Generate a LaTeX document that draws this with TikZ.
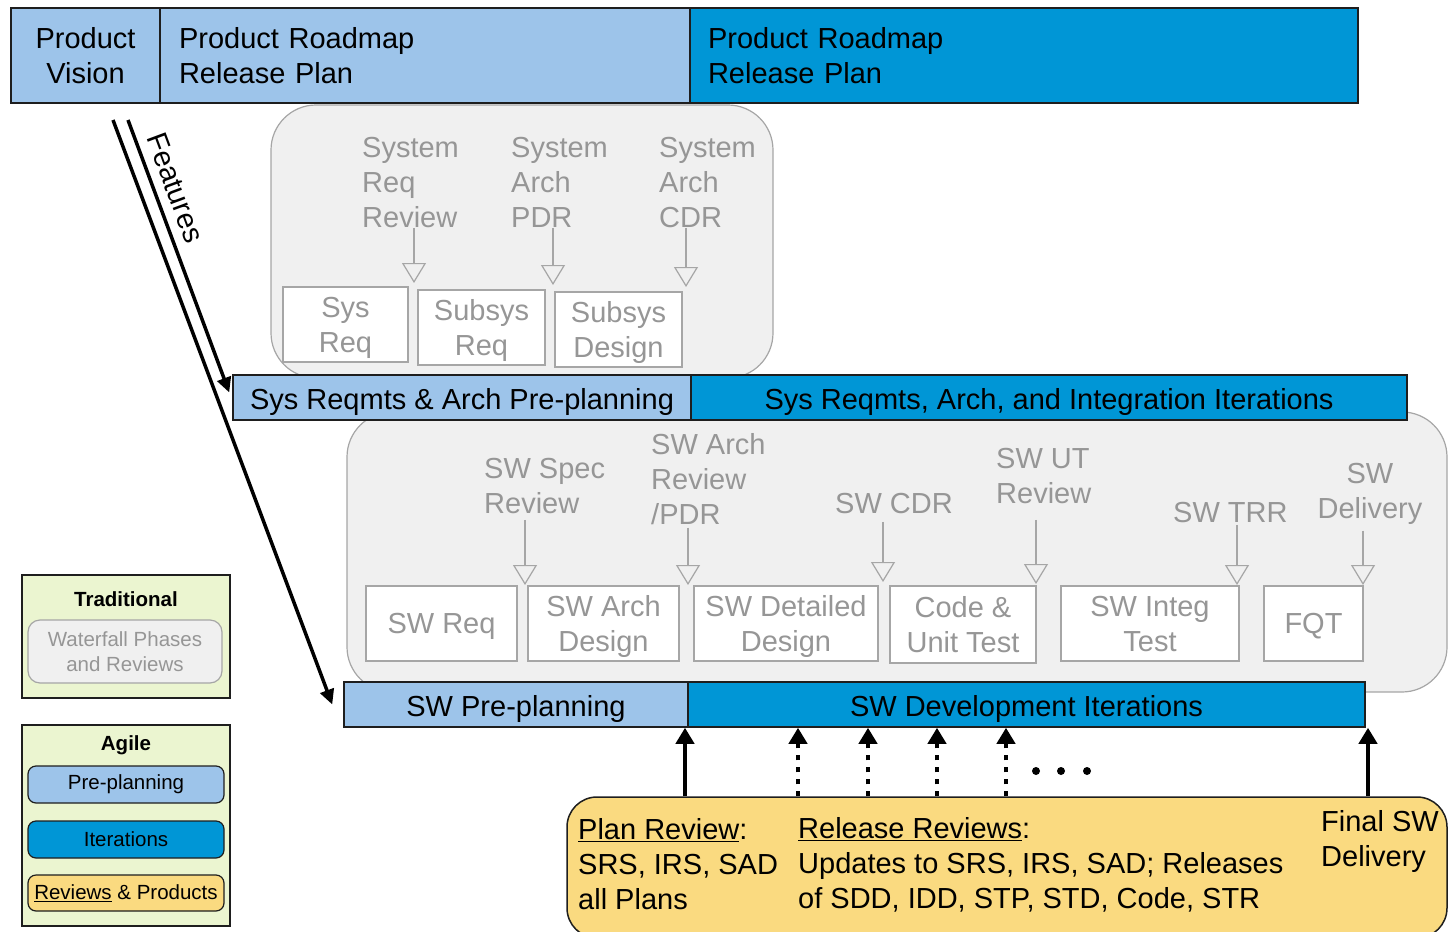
\documentclass[tikz,border=0pt]{standalone}
\usepackage{fontspec}
\setmainfont{Liberation Sans}
\usetikzlibrary{arrows.meta,calc}
\definecolor{lblue}{RGB}{157,196,234}
\definecolor{dblue}{RGB}{0,150,214}
\definecolor{gfill}{RGB}{240,240,240}
\definecolor{gline}{RGB}{166,166,166}
\definecolor{gtext}{RGB}{150,150,150}
\definecolor{lgreen}{RGB}{235,245,208}
\definecolor{ylw}{RGB}{250,218,128}
\definecolor{dk}{RGB}{30,30,30}
\begin{document}
\begin{tikzpicture}[x=1pt,y=-1pt,
  big/.style={font=\fontsize{29}{35}\selectfont},
  small/.style={font=\fontsize{20.5}{25}\selectfont},
  topbar/.style={draw=dk, line width=1.5pt, big, inner sep=0pt, minimum height=95pt},
  barbox/.style={draw=dk, line width=1.5pt, big, inner sep=0pt, minimum height=45pt, text height=29pt, text depth=6pt},
  graybg/.style={draw=gline, fill=gfill, line width=1.2pt, rounded corners=45pt, inner sep=0pt},
  phase/.style={draw=gline, fill=white, line width=1.2pt, text=gtext, big, align=center, inner sep=0pt, minimum height=75pt, text depth=-2pt},
  revlabel/.style={text=gtext, big, align=left, anchor=north west, inner sep=0pt},
  revarr/.style={draw=gline, line width=1.2pt, -{Triangle[open, width=24pt, length=20pt]}},
  feat/.style={draw=black, line width=3.5pt, -{Triangle[width=14pt, length=15pt]}},
  upsolid/.style={draw=black, line width=4pt, -{Triangle[width=18pt, length=16pt]}},
  updot/.style={upsolid, dash pattern=on 5pt off 7pt},
  btxt/.style={big, align=left, anchor=north west, inner sep=0pt},
  legbox/.style={draw=dk, fill=lgreen, line width=1.5pt, inner sep=0pt},
  legitem/.style={draw=dk, line width=1.2pt, rounded corners=8pt, small, inner sep=0pt, minimum width=196pt}
]
\useasboundingbox (0,0) rectangle (1449,932);

% gray waterfall backgrounds
\node[graybg, minimum width=502pt, minimum height=273pt] (sysbg) at (522,241.5) {};
\node[graybg, minimum width=1100pt, minimum height=280pt] (swbg) at (897,552) {};

% top bar
\node[topbar, fill=lblue, minimum width=149pt, align=center] (pv) at (85.5,55.5) {Product\\Vision};
\node[topbar, fill=lblue, minimum width=530pt, text width=492pt, inner xsep=19pt, align=left] (rm1) at (425,55.5) {Product Roadmap\\Release Plan};
\node[topbar, fill=dblue, minimum width=668pt, text width=632pt, inner xsep=18pt, align=left] (rm2) at (1024,55.5) {Product Roadmap\\Release Plan};

% system level reviews and phases
\node[revlabel] (r1) at (362,137) {System\\Req\\Review};
\node[revlabel] (r2) at (511,137) {System\\Arch\\PDR};
\node[revlabel] (r3) at (659,137) {System\\Arch\\CDR};
\node[phase, minimum width=125pt] (sysreq) at (345.5,324.5) {Sys\\Req};
\node[phase, minimum width=127pt] (subreq) at (481.5,327.5) {Subsys\\Req};
\node[phase, minimum width=127pt] (subdes) at (618.5,329.5) {Subsys\\Design};
\coordinate (tp1) at (414,283);
\coordinate (tp2) at (553,285);
\coordinate (tp3) at (686,287);
\draw[revarr] (r1.south -| tp1) -- (tp1);
\draw[revarr] (r2.south -| tp2) -- (tp2);
\draw[revarr] (r3.south -| tp3) -- (tp3);

% system bar
\node[barbox, fill=lblue, minimum width=458pt] (sb1) at (462,397.5) {Sys Reqmts \& Arch Pre-planning};
\node[barbox, fill=dblue, minimum width=716pt] (sb2) at (1049,397.5) {Sys Reqmts, Arch, and Integration Iterations};

% software level reviews and phases
\node[revlabel] (s1) at (484,458) {SW Spec\\Review};
\node[revlabel] (s2) at (651,433) {SW Arch\\Review\\/PDR};
\node[revlabel] (s3) at (835,493) {SW CDR};
\node[revlabel] (s4) at (996,448) {SW UT\\Review};
\node[revlabel] (s5) at (1173,502) {SW TRR};
\node[revlabel, align=center, anchor=north] (s6) at (1370,463) {SW\\Delivery};
\node[phase, minimum width=151pt] (swreq) at (441.5,623.5) {SW Req};
\node[phase, minimum width=151pt] (swarch) at (603.5,623.5) {SW Arch\\Design};
\node[phase, minimum width=184pt] (swdet) at (786,623.5) {SW Detailed\\Design};
\node[phase, minimum width=146pt, minimum height=77pt] (code) at (963,624.5) {Code \&\\Unit Test};
\node[phase, minimum width=178pt] (integ) at (1150,623.5) {SW Integ\\Test};
\node[phase, minimum width=99pt] (fqt) at (1313.5,623.5) {FQT};
\coordinate (st1) at (525,585);
\coordinate (st2) at (688,585);
\coordinate (st3) at (883,582);
\coordinate (st4) at (1036,584);
\coordinate (st5) at (1237,585);
\coordinate (st6) at (1363,585);
\draw[revarr, shorten <=6pt] (s1.south -| st1) -- (st1);
\draw[revarr, shorten <=3pt] (s2.south -| st2) -- (st2);
\draw[revarr, shorten <=8pt] (s3.south -| st3) -- (st3);
\draw[revarr, shorten <=16pt] (s4.south -| st4) -- (st4);
\draw[revarr, shorten <=2pt] (s5.south -| st5) -- (st5);
\draw[revarr, shorten <=6pt] (s6.south -| st6) -- (st6);

% software bar
\node[barbox, fill=lblue, minimum width=344pt] (sw1) at (516,704.5) {SW Pre-planning};
\node[barbox, fill=dblue, minimum width=677pt] (sw2) at (1026.5,704.5) {SW Development Iterations};

% features arrows
\coordinate (f1) at (113,120);
\coordinate (f2) at (128,120);
\draw[feat] (f2) -- ($(sb1.west)+(-3,-5)$) node[pos=0.275, sloped, above, inner sep=9pt, font=\fontsize{29}{32}\selectfont] (ft) {Features};
\draw[feat] (f1) -- ($(sw1.west)+(-11,0)$);

% reviews and products
\node[draw=dk, fill=ylw, line width=1.5pt, rounded corners=30pt, minimum width=880pt, minimum height=141pt, inner sep=0pt] (yb) at (1007,867.5) {};
\node[btxt] (pr) at (578,818) {\underline{Plan Review}:\\SRS, IRS, SAD\\all Plans};
\node[btxt] (rr) at (798,817) {\underline{Release Reviews}:\\Updates to SRS, IRS, SAD; Releases\\of SDD, IDD, STP, STD, Code, STR};
\node[btxt] (fd) at (1321,810) {Final SW\\Delivery};
\coordinate (x1) at (685,0);
\coordinate (x2) at (798,0);
\coordinate (x3) at (868,0);
\coordinate (x4) at (937,0);
\coordinate (x5) at (1006,0);
\coordinate (x6) at (1368,0);
\draw[upsolid] (yb.north -| x1) -- (sw2.south -| x1);
\draw[updot] (yb.north -| x2) -- (sw2.south -| x2);
\draw[updot] (yb.north -| x3) -- (sw2.south -| x3);
\draw[updot] (yb.north -| x4) -- (sw2.south -| x4);
\draw[updot] (yb.north -| x5) -- (sw2.south -| x5);
\draw[upsolid] (yb.north -| x6) -- (sw2.south -| x6);
\fill (1036,771) circle (4pt);
\fill (1061,771) circle (4pt);
\fill (1087,771) circle (4pt);

% legend
\node[legbox, minimum width=208pt, minimum height=123pt] (trad) at (126,636.5) {};
\node[font=\bfseries\fontsize{20.5}{25}\selectfont, inner sep=0pt] (tradt) at (126,599) {Traditional};
\node[draw=gline, fill=gfill, line width=1.2pt, rounded corners=12pt, minimum width=194pt, minimum height=63pt, text=gtext, align=center, small, inner sep=0pt] (wf) at (125,651.5) {Waterfall Phases\\and Reviews};
\node[legbox, minimum width=208pt, minimum height=201pt] (agile) at (126,825.5) {};
\node[font=\bfseries\fontsize{20.5}{25}\selectfont, inner sep=0pt] (agilet) at (126,745) {Agile};
\node[legitem, fill=lblue, minimum height=37pt] (pp) at (126,784.5) {Pre-planning};
\node[legitem, fill=dblue, minimum height=37pt] (it) at (126,839.5) {Iterations};
\node[legitem, fill=ylw, minimum height=36pt] (rp) at (126,893) {\underline{Reviews} \& Products};
\end{tikzpicture}
\end{document}
